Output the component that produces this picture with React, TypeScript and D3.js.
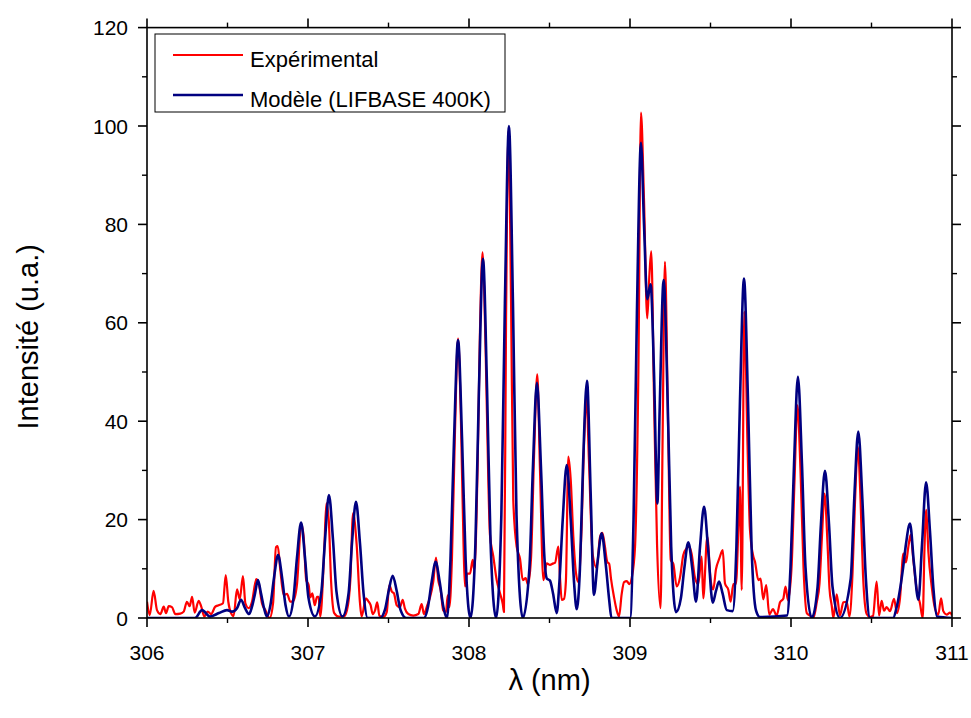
import React from 'react';
import * as d3 from 'd3';

// ---- Data ----
const xMajorTicks = [306, 307, 308, 309, 310, 311];
const xMinorTicks = [306.5, 307.5, 308.5, 309.5, 310.5];
const yMajorTicks = [0, 20, 40, 60, 80, 100, 120];
const yMinorTicks = [10, 30, 50, 70, 90, 110];
const seriesNames = ['Expérimental', 'Modèle (LIFBASE 400K)'];

// Experimental spectrum [λ (nm), intensity (u.a.)]
const experimentalSpectrum: [number, number][] = [
  [306.000,3.3],[306.017,0.6],[306.041,5.5],[306.062,1.6],[306.083,0.8],[306.104,2.3],[306.118,1.0],[306.135,2.4],[306.155,2.2],[306.176,0.8],[306.207,0.9],[306.228,1.3],[306.248,3.3],[306.265,2.4],[306.280,4.3],[306.296,1.1],[306.321,3.5],[306.337,2.3],[306.356,0.3],[306.377,1.3],[306.398,0.8],[306.424,2.3],[306.445,2.6],[306.472,3.0],[306.489,8.7],[306.505,3.3],[306.522,1.0],[306.538,0.4],[306.559,5.8],[306.576,3.8],[306.596,8.5],[306.611,3.0],[306.632,2.0],[306.652,3.3],[306.679,7.9],[306.696,6.7],[306.714,3.0],[306.735,1.6],[306.762,0],[306.783,3.0],[306.801,14.4],[306.812,14.6],[306.828,9.8],[306.849,4.7],[306.870,4.9],[306.890,3.3],[306.907,3.4],[306.932,7.0],[306.958,19.1],[306.973,16.5],[306.989,7.7],[307.004,6.7],[307.014,4.2],[307.027,5.0],[307.042,2.6],[307.056,4.3],[307.066,4.3],[307.076,0.3],[307.101,13.8],[307.114,23.3],[307.129,19.9],[307.143,7.7],[307.163,1.0],[307.191,0.3],[307.222,0.3],[307.242,1.6],[307.263,7.7],[307.280,21.3],[307.302,15],[307.323,3],[307.333,0.3],[307.360,4.0],[307.375,3.4],[307.389,2.6],[307.402,0.8],[307.416,1.5],[307.430,3.2],[307.443,0.5],[307.468,0.2],[307.489,1.2],[307.505,6.7],[307.520,5.4],[307.534,5.0],[307.551,2.6],[307.571,2.2],[307.588,3.7],[307.602,1.9],[307.623,0.8],[307.654,0.5],[307.685,0.8],[307.706,2.8],[307.720,0.8],[307.741,2.6],[307.758,4.2],[307.778,7.4],[307.795,12.3],[307.809,7.7],[307.824,5.7],[307.840,1.5],[307.857,1.2],[307.868,4.6],[307.878,2.2],[307.894,12],[307.913,38],[307.932,56.8],[307.950,40],[307.966,15],[307.975,6.4],[307.989,9.0],[308.006,9.0],[308.023,11.8],[308.033,9.8],[308.053,30],[308.068,58],[308.084,74.3],[308.103,55],[308.120,28],[308.130,17],[308.151,12.5],[308.172,7.7],[308.193,5],[308.210,2.8],[308.217,1.2],[308.230,60],[308.245,99],[308.261,65],[308.275,24],[308.296,14.5],[308.317,12],[308.334,7.7],[308.352,8.1],[308.366,6.8],[308.385,12],[308.404,33],[308.424,49.5],[308.441,30],[308.462,7.7],[308.483,11.1],[308.503,10.8],[308.524,11.1],[308.534,11.2],[308.555,14.5],[308.565,8.4],[308.576,3.7],[308.590,3.9],[308.602,7.6],[308.617,32.8],[308.632,28],[308.648,16.5],[308.665,9],[308.679,7.3],[308.699,18],[308.714,35],[308.730,45],[308.745,32],[308.768,13],[308.793,10.2],[308.814,16.5],[308.828,17.3],[308.843,14.8],[308.859,11.4],[308.871,11],[308.882,8],[308.901,4.2],[308.917,1.6],[308.932,0.3],[308.948,4.8],[308.963,7.3],[308.980,7.5],[308.996,6.9],[309.011,8.2],[309.031,14.3],[309.052,50],[309.068,102.7],[309.087,85],[309.107,60.9],[309.121,70],[309.132,74.5],[309.149,45],[309.168,15],[309.190,2],[309.202,35],[309.217,72.4],[309.236,40],[309.253,11.8],[309.269,11],[309.290,6.4],[309.311,8.3],[309.331,12.8],[309.352,14.2],[309.368,14.5],[309.383,13],[309.404,8.1],[309.424,6.9],[309.445,12.5],[309.455,4],[309.480,16.5],[309.501,7.7],[309.517,5.8],[309.534,9.9],[309.555,12.1],[309.576,13.8],[309.590,7.0],[309.611,5.7],[309.625,3.3],[309.642,6.9],[309.658,6.9],[309.673,18],[309.683,26.7],[309.694,5.7],[309.710,62.3],[309.730,35],[309.745,18],[309.766,12.5],[309.776,11.5],[309.797,7.7],[309.811,8.0],[309.828,3.8],[309.846,6.7],[309.865,0.7],[309.888,1.8],[309.911,0.5],[309.932,3.2],[309.952,3.9],[309.966,6.4],[309.981,3.6],[310.003,10],[310.022,28],[310.040,43.2],[310.059,30],[310.078,10],[310.098,1],[310.118,0.5],[310.139,0],[310.160,3.2],[310.177,7],[310.193,17],[310.208,25.3],[310.227,15],[310.239,6],[310.253,2.5],[310.263,0],[310.284,4.8],[310.304,0.5],[310.325,3.2],[310.346,3.3],[310.363,0.3],[310.382,9],[310.398,24],[310.415,34.8],[310.432,24],[310.447,9],[310.470,0.8],[310.491,0.2],[310.509,0.4],[310.532,7.4],[310.547,0.5],[310.563,3.5],[310.578,1.5],[310.594,2.2],[310.615,1.4],[310.640,3.9],[310.658,1],[310.677,4],[310.698,13.1],[310.714,11.3],[310.729,14.5],[310.743,16.9],[310.760,11.8],[310.781,5.7],[310.801,3],[310.818,0],[310.829,14],[310.840,22],[310.853,13.6],[310.874,6.4],[310.894,2],[310.915,0.7],[310.932,4],[310.946,1.4],[310.967,0.7],[310.988,1.1],[311.000,0.5]
];

// Simulated spectrum (LIFBASE 400K) [λ (nm), intensity (u.a.)]
const modelSpectrum: [number, number][] = [
  [306.000,0],[306.298,0],[306.342,1.6],[306.391,0.3],[306.447,1.0],[306.497,1.6],[306.528,1.3],[306.559,2.0],[306.584,3.7],[306.609,2.0],[306.634,0.8],[306.652,2.3],[306.671,5.0],[306.689,7.7],[306.708,5.0],[306.727,2.0],[306.745,0.3],
  [306.767,2.7],[306.789,8.2],[306.814,12.8],[306.839,8.2],[306.860,2.7],[306.882,0.3],
  [306.910,4.1],[306.932,12.4],[306.957,19.4],[306.981,12.4],[307.003,4.1],[307.043,0.3],
  [307.083,5.3],[307.106,16.0],[307.130,25.0],[307.155,16.0],[307.177,5.3],[307.214,0.3],
  [307.252,5.0],[307.273,15.1],[307.298,23.6],[307.323,15.1],[307.345,5.0],[307.370,0],[307.447,0],
  [307.479,1.8],[307.501,5.5],[307.526,8.6],[307.551,5.5],[307.573,1.8],[307.610,0],[307.720,0],
  [307.746,2.4],[307.768,7.3],[307.793,11.4],[307.818,7.3],[307.840,2.4],[307.863,0],
  [307.885,11.9],[307.907,36.2],[307.932,56.5],[307.957,36.2],[307.979,11.9],[308.009,0],
  [308.040,15.3],[308.062,46.7],[308.087,73.0],[308.112,46.7],[308.134,15.3],[308.168,0],
  [308.201,21],[308.223,64],[308.248,100],[308.273,64],[308.295,21],[308.334,0],
  [308.375,10],[308.397,30.6],[308.422,47.8],[308.447,30.6],[308.469,12],[308.484,8.0],[308.503,7.6],[308.522,5.0],[308.545,1.0],
  [308.560,6.5],[308.582,19.9],[308.607,31.1],[308.632,19.9],[308.653,7],[308.669,1.8],
  [308.689,10],[308.708,30.8],[308.733,48.2],[308.756,25],[308.776,4.7],
  [308.799,11.5],[308.824,17.2],[308.849,11],[308.871,3.6],[308.885,0],[309.000,0],
  [309.022,20],[309.043,62],[309.068,96.6],[309.087,80],[309.107,64.8],[309.128,67.8],[309.149,50],[309.170,23.3],[309.184,42],[309.209,68.7],[309.234,44],[309.256,14.4],[309.286,1.2],
  [309.316,4],[309.337,10],[309.362,15.4],[309.387,10],[309.410,3.3],
  [309.435,14.5],[309.460,22.6],[309.484,14.5],[309.514,3.1],
  [309.534,5.5],[309.553,7.4],[309.575,5],[309.601,1.6],[309.638,1.4],
  [309.661,14.5],[309.683,44],[309.708,69.0],[309.733,44],[309.755,14.5],[309.783,1.5],[309.807,0.2],[309.975,0.5],
  [309.997,10.3],[310.019,31.4],[310.043,49.0],[310.068,31.4],[310.090,10.3],[310.129,0],
  [310.165,6.3],[310.186,19.1],[310.211,29.9],[310.236,19.1],[310.258,6.3],[310.304,0],
  [310.371,8],[310.393,24.3],[310.418,37.9],[310.443,24.3],[310.465,8],[310.491,0],[310.634,0],
  [310.657,2.3],[310.697,10.4],[310.714,15],[310.739,19.2],[310.764,11],[310.791,3.7],[310.814,15],[310.839,27.6],[310.863,17.7],[310.885,5.8],[310.907,0.3],[311.000,0]
];

const W = 971;
const H = 718;
const plot = { left: 147, right: 952, top: 27.6, bottom: 618 };
const FONT = 'Arial, "Liberation Sans", Helvetica, sans-serif';
const RED = '#ff0000';
const NAVY = '#000080';

export default function App() {
  const x = d3.scaleLinear().domain([306, 311]).range([plot.left, plot.right]);
  const y = d3.scaleLinear().domain([0, 120]).range([plot.bottom, plot.top]);

  const line = d3
    .line<[number, number]>()
    .x((d) => x(d[0]))
    .y((d) => y(d[1]))
    .curve(d3.curveMonotoneX);

  const majorLen = 9;
  const minorLen = 5;
  const axisColor = '#000';

  return (
    <div style={{ position: 'absolute', left: 0, top: 0 }}>
      <svg width={W} height={H} style={{ display: 'block', background: '#fff' }} fontFamily={FONT}>
        <defs>
          <clipPath id="plotClip">
            <rect x={plot.left} y={plot.top} width={plot.right - plot.left} height={plot.bottom - plot.top} />
          </clipPath>
        </defs>
        <rect x={0} y={0} width={W} height={H} fill="#fff" />

        {/* data */}
        <g clipPath="url(#plotClip)">
          <path d={line(experimentalSpectrum) || ''} fill="none" stroke={RED} strokeWidth={2.2} strokeLinejoin="round" />
          <path d={line(modelSpectrum) || ''} fill="none" stroke={NAVY} strokeWidth={2.6} strokeLinejoin="round" />
        </g>

        {/* frame */}
        <rect x={plot.left} y={plot.top} width={plot.right - plot.left} height={plot.bottom - plot.top}
          fill="none" stroke={axisColor} strokeWidth={1.6} />

        {/* x ticks bottom & top */}
        {xMajorTicks.map((t) => (
          <g key={'xM' + t}>
            <line x1={x(t)} x2={x(t)} y1={plot.bottom} y2={plot.bottom + majorLen} stroke={axisColor} strokeWidth={1.6} />
            <line x1={x(t)} x2={x(t)} y1={plot.top} y2={plot.top - majorLen} stroke={axisColor} strokeWidth={1.6} />
            <text x={x(t)} y={plot.bottom + 42} textAnchor="middle" fontSize={21} fill="#000">{t}</text>
          </g>
        ))}
        {xMinorTicks.map((t) => (
          <g key={'xm' + t}>
            <line x1={x(t)} x2={x(t)} y1={plot.bottom} y2={plot.bottom + minorLen} stroke={axisColor} strokeWidth={1.4} />
            <line x1={x(t)} x2={x(t)} y1={plot.top} y2={plot.top - minorLen} stroke={axisColor} strokeWidth={1.4} />
          </g>
        ))}

        {/* y ticks left & right */}
        {yMajorTicks.map((t) => (
          <g key={'yM' + t}>
            <line x1={plot.left} x2={plot.left - majorLen} y1={y(t)} y2={y(t)} stroke={axisColor} strokeWidth={1.6} />
            <line x1={plot.right} x2={plot.right + majorLen} y1={y(t)} y2={y(t)} stroke={axisColor} strokeWidth={1.6} />
            <text x={plot.left - 19} y={y(t) + 7.5} textAnchor="end" fontSize={21} fill="#000">{t}</text>
          </g>
        ))}
        {yMinorTicks.map((t) => (
          <g key={'ym' + t}>
            <line x1={plot.left} x2={plot.left - minorLen} y1={y(t)} y2={y(t)} stroke={axisColor} strokeWidth={1.4} />
            <line x1={plot.right} x2={plot.right + minorLen} y1={y(t)} y2={y(t)} stroke={axisColor} strokeWidth={1.4} />
          </g>
        ))}

        {/* axis titles */}
        <text x={(plot.left + plot.right) / 2} y={690} textAnchor="middle" fontSize={29} fill="#000">λ (nm)</text>
        <text transform={`translate(38, ${(plot.top + plot.bottom) / 2 + 14}) rotate(-90)`} textAnchor="middle" fontSize={29} fill="#000">
          Intensité (u.a.)
        </text>

        {/* legend */}
        <g>
          <rect x={155} y={34} width={350} height={78} fill="#fff" stroke="#000" strokeWidth={1} />
          <line x1={173} x2={243} y1={55} y2={55} stroke={RED} strokeWidth={2.2} />
          <text x={250} y={66.5} fontSize={22} fill="#000">{seriesNames[0]}</text>
          <line x1={173} x2={243} y1={95} y2={95} stroke={NAVY} strokeWidth={2.6} />
          <text x={250} y={106.5} fontSize={22} fill="#000">{seriesNames[1]}</text>
        </g>
      </svg>
    </div>
  );
}
